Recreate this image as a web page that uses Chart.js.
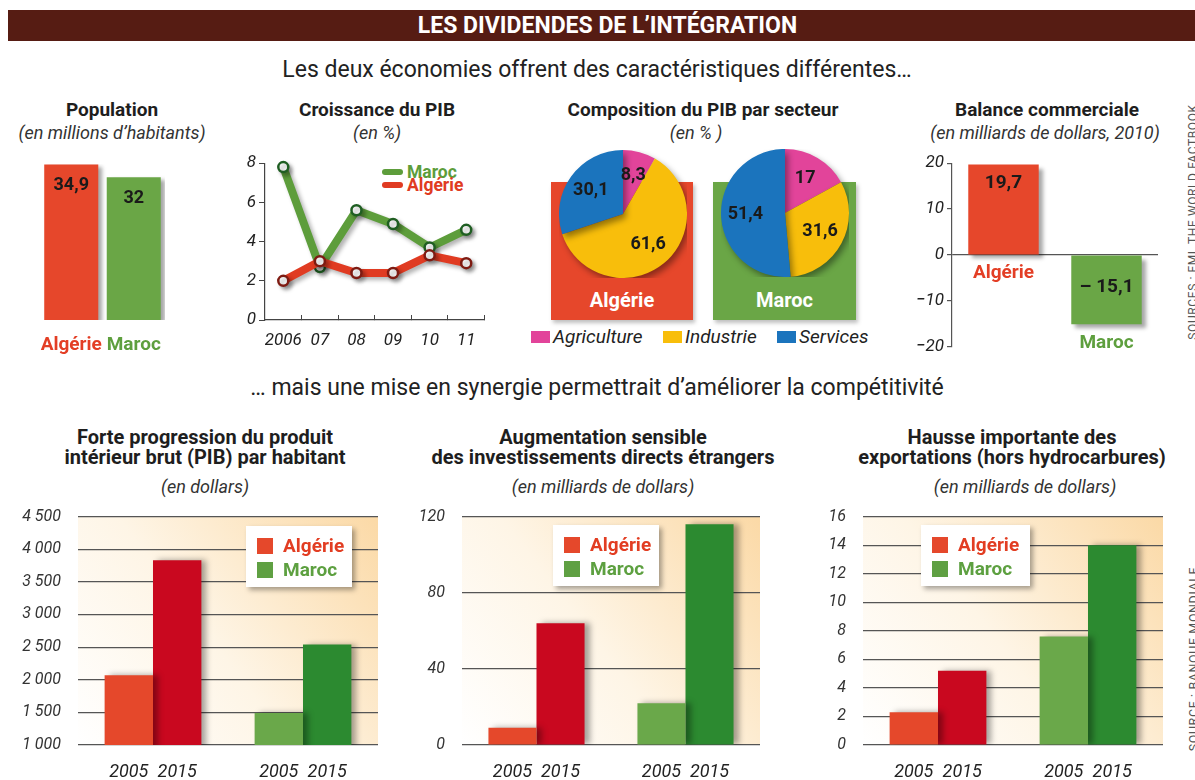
<!DOCTYPE html>
<html lang="fr">
<head>
<meta charset="utf-8">
<title>Les dividendes de l'intégration</title>
<script src="https://cdn.jsdelivr.net/npm/chart.js@4.4.1/dist/chart.umd.min.js"></script>
<style>
  body { margin:0; width:1195px; height:780px; background:#fff; position:relative; overflow:hidden;
         font-family:Roboto,"Liberation Sans",sans-serif; color:#222; }
  canvas { position:absolute; }
  .c { position:absolute; transform:translateX(-50%); white-space:nowrap; text-align:center; }
  .t { font-weight:bold; font-size:19px; line-height:20px; color:#1e1e1e; }
  .s { font-style:italic; font-size:18px; line-height:20px; color:#333; }
  .bt { font-weight:bold; font-size:20px; line-height:20px; color:#1e1e1e; }
  .head { position:absolute; left:8px; top:10px; width:1187px; height:31px; background:#561c13; }
  .head div { color:#fff; font-weight:bold; font-size:23px; line-height:31px; text-align:center; padding-left:12px; }
  .box { position:absolute; top:182px; box-shadow:2px 3px 4px rgba(0,0,0,0.25); }
  .box span { position:absolute; left:0; right:0; bottom:8px; color:#fff; font-weight:bold; font-size:20px; text-align:center; }
  .leg { position:absolute; background:#fff; box-shadow:3px 3px 5px rgba(0,0,0,0.35); width:106px; height:61px; }
  .leg div { position:absolute; left:37px; font-weight:bold; font-size:19px; line-height:20px; }
  .leg i { position:absolute; left:11px; width:16px; height:16px; }
  .src { position:absolute; transform:translate(-50%,-50%) rotate(-90deg); white-space:nowrap; color:#555; }
  .pl { position:absolute; top:327px; font-style:italic; font-size:19px; line-height:20px; color:#222; }
  .pl i { display:inline-block; width:19px; height:12px; margin-right:3px; vertical-align:0px; }
  .gl { position:absolute; font-weight:bold; font-size:17.5px; line-height:14px; }
  .gm { position:absolute; left:382px; width:21px; height:6px; border-radius:3px; }
</style>
</head>
<body>

<div class="head"><div>LES DIVIDENDES DE L’INTÉGRATION</div></div>
<div class="c" style="left:597px;top:57px;font-size:23px;line-height:26px;color:#222;">Les deux économies offrent des caractéristiques différentes…</div>

<div class="c t" style="left:112px;top:100px;">Population</div>
<div class="c s" style="left:112px;top:123px;">(en millions d’habitants)</div>

<div class="c t" style="left:377px;top:100px;">Croissance du PIB</div>
<div class="c s" style="left:377px;top:123px;">(en %)</div>

<div class="c t" style="left:703px;top:100px;">Composition du PIB par secteur</div>
<div class="c s" style="left:696px;top:123px;">(en % )</div>

<div class="c t" style="left:1047px;top:100px;">Balance commerciale</div>
<div class="c s" style="left:1045px;top:123px;">(en milliards de dollars, 2010)</div>

<div class="box" style="left:551px;width:142px;height:138px;background:#e6472b;"><span>Algérie</span></div>
<div class="box" style="left:713px;width:143px;height:138px;background:#6aa646;"><span>Maroc</span></div>

<div class="pl" style="left:531px;"><i style="background:#e2449a"></i>Agriculture</div>
<div class="pl" style="left:663px;"><i style="background:#f8be0b"></i>Industrie</div>
<div class="pl" style="left:777px;"><i style="background:#1b74bd"></i>Services</div>

<div class="gm" style="top:169px;background:#5d9d3b;"></div>
<div class="gl" style="left:407px;top:165px;color:#5d9d3b;">Maroc</div>
<div class="gm" style="top:182px;background:#e03b22;"></div>
<div class="gl" style="left:407px;top:178px;color:#e03b22;">Algérie</div>

<div class="src" style="left:1193px;top:222px;font-size:12px;letter-spacing:0.6px;">SOURCES : FMI, THE WORLD FACTBOOK</div>

<div class="c" style="left:597px;top:375px;font-size:23px;line-height:26px;color:#222;">… mais une mise en synergie permettrait d’améliorer la compétitivité</div>

<div class="c bt" style="left:205px;top:427px;">Forte progression du produit<br>intérieur brut (PIB) par habitant</div>
<div class="c s" style="left:205px;top:477px;">(en dollars)</div>
<div class="c bt" style="left:603px;top:427px;">Augmentation sensible<br>des investissements directs étrangers</div>
<div class="c s" style="left:603px;top:477px;">(en milliards de dollars)</div>
<div class="c bt" style="left:1012px;top:427px;">Hausse importante des<br>exportations (hors hydrocarbures)</div>
<div class="c s" style="left:1025px;top:477px;">(en milliards de dollars)</div>

<div class="src" style="left:1193px;top:659px;font-size:12.5px;letter-spacing:0.6px;">SOURCE : BANQUE MONDIALE</div>

<canvas id="pop" width="125" height="210" style="left:40px;top:150px;"></canvas>
<canvas id="pib" width="257" height="200" style="left:235px;top:150px;"></canvas>
<canvas id="pieAlg" width="128" height="128" style="left:559px;top:150px;"></canvas>
<canvas id="pieMar" width="128" height="128" style="left:721px;top:149px;"></canvas>
<canvas id="bal" width="255" height="210" style="left:910px;top:150px;"></canvas>
<canvas id="hab" width="385" height="290" style="left:0px;top:490px;"></canvas>
<canvas id="ide" width="367" height="290" style="left:400px;top:490px;"></canvas>
<canvas id="exp" width="370" height="290" style="left:800px;top:490px;"></canvas>

<div class="leg" style="left:246px;top:526px;"><i style="top:12px;background:#e5482b"></i><div style="top:10px;color:#e23d22">Algérie</div><i style="top:36px;background:#5fa043"></i><div style="top:34px;color:#5da040">Maroc</div></div>
<div class="leg" style="left:553px;top:525px;"><i style="top:12px;background:#e5482b"></i><div style="top:10px;color:#e23d22">Algérie</div><i style="top:36px;background:#5fa043"></i><div style="top:34px;color:#5da040">Maroc</div></div>
<div class="leg" style="left:921px;top:525px;width:109px;"><i style="top:12px;background:#e5482b"></i><div style="top:10px;color:#e23d22">Algérie</div><i style="top:36px;background:#5fa043"></i><div style="top:34px;color:#5da040">Maroc</div></div>

<script>
// values
const countries = ['Algérie', 'Maroc'];
const population = [34.9, 32];

const pibYears = ['2006', '07', '08', '09', '10', '11'];
const pibMaroc = [7.8, 2.7, 5.6, 4.9, 3.7, 4.6];
const pibAlgerie = [2.0, 3.0, 2.4, 2.4, 3.3, 2.9];

const sectors = ['Agriculture', 'Industrie', 'Services'];
const sectorsAlgerie = [8.3, 61.6, 30.1];
const sectorsMaroc = [17, 31.6, 51.4];

const balance = [19.7, -15.1];

const years = ['2005', '2015'];
const pibHab2005 = [2070, 1490];
const pibHab2015 = [3830, 2540];
const ide2005 = [9, 22];
const ide2015 = [64, 116];
const export2005 = [2.3, 7.6];
const export2015 = [5.2, 14];

const FONT = 'Roboto, "Liberation Sans", sans-serif';
Chart.defaults.font.family = FONT;

const RED = '#e6472b', GREEN = '#6aa646';
const countryBar = [RED, GREEN];
const countryText = ['#e33e25', '#5e9f3e'];
const sectorColors = ['#e2449a', '#f8be0b', '#1b74bd'];

const fmtFr = v => (v < 0 ? '– ' : '') + String(Math.abs(v)).replace('.', ',');

const shadowPlugin = {
  id: 'shadow',
  beforeDatasetsDraw(chart, args, opts) {
    const ctx = chart.ctx;
    ctx.save();
    ctx.shadowColor = opts.color || 'rgba(0,0,0,0.35)';
    ctx.shadowBlur = opts.blur ?? 4;
    ctx.shadowOffsetX = opts.x ?? 3;
    ctx.shadowOffsetY = opts.y ?? 3;
  },
  afterDatasetsDraw(chart) { chart.ctx.restore(); }
};

// population: values at the top inside the bars
const popLabels = {
  id: 'popLabels',
  afterDatasetsDraw(chart) {
    const ctx = chart.ctx;
    ctx.save();
    ctx.font = 'bold 18px ' + FONT;
    ctx.fillStyle = '#1a1a1a';
    ctx.textAlign = 'center';
    ctx.textBaseline = 'middle';
    chart.getDatasetMeta(0).data.forEach((bar, i) => {
      ctx.fillText(fmtFr(population[i]), bar.x, bar.y + 21);
    });
    ctx.restore();
  }
};

new Chart(document.getElementById('pop'), {
  type: 'bar',
  data: { labels: countries, datasets: [{ data: population, backgroundColor: countryBar }] },
  options: {
    responsive: false, animation: false,
    layout: { padding: { top: 14 } },
    datasets: { bar: { categoryPercentage: 0.94, barPercentage: 0.92 } },
    scales: {
      x: {
        grid: { display: false }, border: { display: false },
        ticks: { padding: 6, maxRotation: 0, minRotation: 0, autoSkip: false,
                 color: c => countryText[c.index], font: { size: 19, weight: 'bold' } },
        afterFit: s => { s.height = 40; s.paddingLeft = 0; s.paddingRight = 0; }
      },
      y: { display: false, min: 0, max: 35 }
    },
    plugins: { legend: { display: false }, tooltip: { enabled: false }, shadow: { x: 4, y: 3, blur: 4 } }
  },
  plugins: [shadowPlugin, popLabels]
});

// GDP growth
new Chart(document.getElementById('pib'), {
  type: 'line',
  data: {
    labels: pibYears,
    datasets: [
      { label: 'Maroc', data: pibMaroc, borderColor: '#5d9d3b', pointBorderColor: '#1f5e22', order: 1 },
      { label: 'Algérie', data: pibAlgerie, borderColor: '#e03b22', pointBorderColor: '#7e1b12', order: 0 }
    ]
  },
  options: {
    responsive: false, animation: false,
    layout: { padding: { top: 12, right: 5 } },
    datasets: { line: { borderWidth: 8, pointRadius: 5, pointBorderWidth: 2.5, pointBackgroundColor: '#fff', tension: 0, clip: false, borderJoinStyle: 'round', borderCapStyle: 'round' } },
    scales: {
      x: {
        offset: true,
        grid: { offset: true, drawOnChartArea: false, tickLength: -5, color: '#444', tickColor: '#444' },
        border: { color: '#444', width: 1.2 },
        ticks: { padding: 16, maxRotation: 0, minRotation: 0, autoSkip: false, color: '#222', font: { size: 17, style: 'italic' } },
        afterFit: s => { s.height = 30; s.paddingLeft = 0; s.paddingRight = 0; }
      },
      y: {
        min: 0, max: 8,
        grid: { drawOnChartArea: false, tickLength: 6, tickColor: '#444' },
        border: { color: '#444', width: 1.2 },
        ticks: { stepSize: 2, padding: 3, color: '#222', font: { size: 17, style: 'italic' } },
        afterFit: s => { s.width = 30; }
      }
    },
    plugins: { legend: { display: false }, tooltip: { enabled: false }, shadow: { x: 3, y: 3, blur: 4, color: 'rgba(0,0,0,0.3)' } }
  },
  plugins: [shadowPlugin]
});

// pies: labels towards the rim
const pieLabels = {
  id: 'pieLabels',
  afterDatasetsDraw(chart) {
    const ctx = chart.ctx;
    const values = chart.data.datasets[0].data;
    ctx.save();
    ctx.font = 'bold 18px ' + FONT;
    ctx.fillStyle = '#1a1a1a';
    ctx.textAlign = 'center';
    ctx.textBaseline = 'middle';
    chart.getDatasetMeta(0).data.forEach((arc, i) => {
      const mid = (arc.startAngle + arc.endAngle) / 2;
      const r = arc.outerRadius * 0.62;
      ctx.fillText(fmtFr(values[i]), arc.x + Math.cos(mid) * r, arc.y + Math.sin(mid) * r);
    });
    ctx.restore();
  }
};

function makePie(id, values) {
  return new Chart(document.getElementById(id), {
    type: 'pie',
    data: { labels: sectors, datasets: [{ data: values, backgroundColor: sectorColors, borderWidth: 0 }] },
    options: {
      responsive: false, animation: false,
      plugins: { legend: { display: false }, tooltip: { enabled: false }, shadow: { x: 3, y: 4, blur: 6, color: 'rgba(0,0,0,0.4)' } }
    },
    plugins: [shadowPlugin, pieLabels]
  });
}
makePie('pieAlg', sectorsAlgerie);
makePie('pieMar', sectorsMaroc);

// trade balance
const balanceLabels = {
  id: 'balanceLabels',
  afterDatasetsDraw(chart) {
    const ctx = chart.ctx;
    ctx.save();
    ctx.textAlign = 'center';
    ctx.textBaseline = 'middle';
    ctx.font = 'bold 19px ' + FONT;
    chart.getDatasetMeta(0).data.forEach((bar, i) => {
      const up = balance[i] >= 0;
      ctx.fillStyle = '#1a1a1a';
      ctx.fillText(fmtFr(balance[i]), bar.x, up ? bar.y + 19 : bar.base + 32);
      ctx.fillStyle = countryText[i];
      ctx.fillText(countries[i], bar.x, up ? bar.base + 19 : bar.y + 19);
    });
    ctx.restore();
  }
};

new Chart(document.getElementById('bal'), {
  type: 'bar',
  data: { labels: countries, datasets: [{ data: balance, backgroundColor: countryBar }] },
  options: {
    responsive: false, animation: false,
    layout: { padding: { top: 13, right: 7, bottom: 10 } },
    datasets: { bar: { categoryPercentage: 0.9, barPercentage: 0.76 } },
    scales: {
      x: { display: false },
      y: {
        min: -20, max: 20,
        grid: { color: c => c.tick && c.tick.value === 0 ? '#555' : 'rgba(0,0,0,0)', tickColor: '#555', tickLength: 5, lineWidth: 1.2 },
        border: { color: '#555', width: 1.2 },
        ticks: { stepSize: 10, padding: 3, color: '#222', font: { size: 17, style: 'italic' },
                 callback: v => v < 0 ? '−' + Math.abs(v) : v },
        afterFit: s => { s.width = 42; }
      }
    },
    plugins: { legend: { display: false }, tooltip: { enabled: false }, shadow: { x: 4, y: 4, blur: 4 } }
  },
  plugins: [shadowPlugin, balanceLabels]
});

// bottom row: 2005 / 2015 bars over a warm panel
const panelPlugin = {
  id: 'panel',
  beforeDraw(chart) {
    const { ctx, chartArea: a } = chart;
    const g = ctx.createLinearGradient(a.left, a.bottom, a.right, a.top);
    g.addColorStop(0, '#ffffff');
    g.addColorStop(0.45, '#fef5e6');
    g.addColorStop(1, '#fbd9a6');
    ctx.save();
    ctx.fillStyle = g;
    ctx.fillRect(a.left, a.top, a.right - a.left, a.bottom - a.top);
    ctx.restore();
  }
};

const yearLabels = {
  id: 'yearLabels',
  afterDraw(chart) {
    const ctx = chart.ctx;
    ctx.save();
    ctx.font = 'italic 18px ' + FONT;
    ctx.fillStyle = '#222';
    ctx.textAlign = 'center';
    ctx.textBaseline = 'middle';
    chart.data.datasets.forEach((ds, di) => {
      chart.getDatasetMeta(di).data.forEach(bar => {
        ctx.fillText(ds.label, bar.x, chart.chartArea.bottom + 27);
      });
    });
    ctx.restore();
  }
};

const thousands = v => v >= 1000 ? Math.floor(v / 1000) + ' ' + String(v % 1000).padStart(3, '0') : String(v);

function makeGrowth(id, d2005, d2015, min, max, step, axisWidth, fmt) {
  return new Chart(document.getElementById(id), {
    type: 'bar',
    data: {
      labels: countries,
      datasets: [
        { label: years[0], data: d2005, backgroundColor: ['#e5482b', '#6aa84a'] },
        { label: years[1], data: d2015, backgroundColor: ['#c9081f', '#2c8a30'] }
      ]
    },
    options: {
      responsive: false, animation: false,
      layout: { padding: { top: 14, right: 7, bottom: 35 } },
      datasets: { bar: { categoryPercentage: 0.645, barPercentage: 1 } },
      scales: {
        x: { display: false },
        y: {
          min, max,
          grid: { color: '#555', lineWidth: 1.2, drawTicks: false },
          border: { display: false },
          ticks: { stepSize: step, padding: 17, color: '#333', font: { size: 16, style: 'italic' }, callback: fmt },
          afterFit: s => { s.width = axisWidth; }
        }
      },
      plugins: { legend: { display: false }, tooltip: { enabled: false }, shadow: { x: 5, y: 0, blur: 6, color: 'rgba(0,0,0,0.35)' } }
    },
    plugins: [panelPlugin, shadowPlugin, yearLabels]
  });
}

makeGrowth('hab', pibHab2005, pibHab2015, 1000, 4500, 500, 78, thousands);
makeGrowth('ide', ide2005, ide2015, 0, 120, 40, 62, v => v);
makeGrowth('exp', export2005, export2015, 0, 16, 2, 63, v => v);
</script>
</body>
</html>
